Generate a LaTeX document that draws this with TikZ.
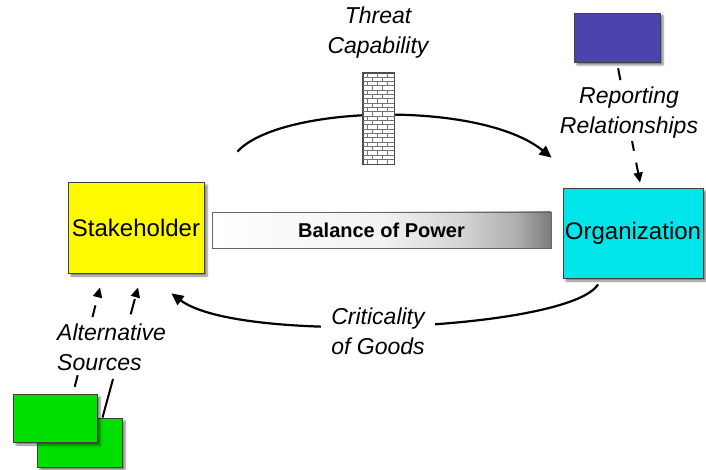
\documentclass[tikz,border=0pt]{standalone}
\usepackage{fontspec}
\setmainfont{Liberation Sans}
\usetikzlibrary{calc,arrows.meta,shadows.blur}

\definecolor{stakeyellow}{RGB}{255,250,0}
\definecolor{orgcyan}{RGB}{0,229,234}
\definecolor{reportpurple}{RGB}{74,68,172}
\definecolor{sourcegreen}{RGB}{0,224,0}
\definecolor{boxedge}{RGB}{64,64,64}

% white on the left, darkening towards the right end
\pgfdeclarehorizontalshading{powerbar}{100bp}{%
  color(0bp)=(white); color(25bp)=(white); color(50bp)=(black!5);
  color(62bp)=(black!17); color(70bp)=(black!32); color(75bp)=(black!52);
  color(100bp)=(black!52)}

\tikzset{
  box/.style={draw=boxedge, line width=0.8pt, inner sep=0pt,
    blur shadow={shadow xshift=3pt, shadow yshift=-3pt, shadow blur radius=2pt, shadow opacity=50}},
  bigtext/.style={font=\fontsize{24}{28}\selectfont},
  label/.style={font=\fontsize{23}{30}\selectfont\itshape, fill=white, align=center, inner xsep=10pt, inner ysep=2pt},
  flow/.style={line width=2.2pt, -{Triangle[length=12pt,width=11pt]}},
  dasharrow/.style={line width=2pt, dash pattern=on 12pt off 12pt, -{Triangle[length=10pt,width=9pt]}},
  brickline/.style={draw=black!55, line width=0.6pt},
}

\begin{document}
\begin{tikzpicture}[x=1pt, y=-1pt]
\useasboundingbox (0,0) rectangle (706,470);

% main boxes
\node[box, fill=stakeyellow, minimum width=136pt, minimum height=91pt, bigtext] (stake) at (136,227.5) {Stakeholder};
\node[box, fill=orgcyan, minimum width=140pt, minimum height=90pt, bigtext] (org) at (633,233) {Organization};
\node[box, fill=reportpurple, minimum width=86pt, minimum height=49pt] (boss) at (617,37.5) {};
% the rear source first, so the front one overlaps it
\node[box, fill=sourcegreen, minimum width=85pt, minimum height=49pt] (srcB) at (79.5,442.5) {};
\node[box, fill=sourcegreen, minimum width=84pt, minimum height=48pt] (srcA) at (55,418) {};

% balance bar
\node[draw=black!60, line width=0.6pt, shading=powerbar, minimum width=339pt, minimum height=36pt,
  font=\fontsize{20}{22}\selectfont\bfseries] (bar) at (381.5,230) {Balance of Power};

% curved flows
\draw[flow] ($(stake.north east)+(33,-30)$) .. controls (280,105) and (480,100) .. ($(org.north west)+(-11,-30)$);
\draw[flow] ($(org.south)+(-35,6)$) .. controls (570,330) and (240,345) .. ($(stake.south east)+(-33,20)$);

% dashed influences
\draw[dasharrow, shorten <=6pt] (boss.south) -- ($(org.north)+(7,-5)$);
\draw[dasharrow, dash phase=17pt] ([xshift=18pt]srcA.north) -- ($(stake.south)+(-36,14)$);
\draw[dasharrow, dash pattern=on 40pt off 67pt on 16pt off 30pt] ([xshift=23pt]srcB.north) -- ($(stake.south)+(2,14)$);

% brick wall
\node[draw=black!70, fill=white, line width=0.6pt, minimum width=31pt, minimum height=91pt, inner sep=0pt] (wall) at (378.5,118.5) {};
\begin{scope}[shift={(wall.north west)}]
  \foreach \r in {1,...,20} \draw[brickline] (0,\r*4.333) -- (31,\r*4.333);
  \foreach \r in {0,2,...,20} {
    \foreach \x in {5,15,25} \draw[brickline] (\x,\r*4.333) -- (\x,\r*4.333+4.333);
  }
  \foreach \r in {1,3,...,19} {
    \foreach \x in {10,20} \draw[brickline] (\x,\r*4.333) -- (\x,\r*4.333+4.333);
  }
\end{scope}
\draw[draw=black!70, line width=0.6pt] (wall.north west) rectangle (wall.south east);

% labels
\node[label, fill=none] (threat) at (378,33) {Threat\\Capability};
\node[label] (report) at (629,113) {Reporting\\Relationships};
\node[label] (crit) at (378,331) {Criticality\\of Goods};
\node[label, align=left, anchor=west, inner xsep=4pt] (alt) at (53,347.5) {Alternative\\Sources};
\end{tikzpicture}
\end{document}
